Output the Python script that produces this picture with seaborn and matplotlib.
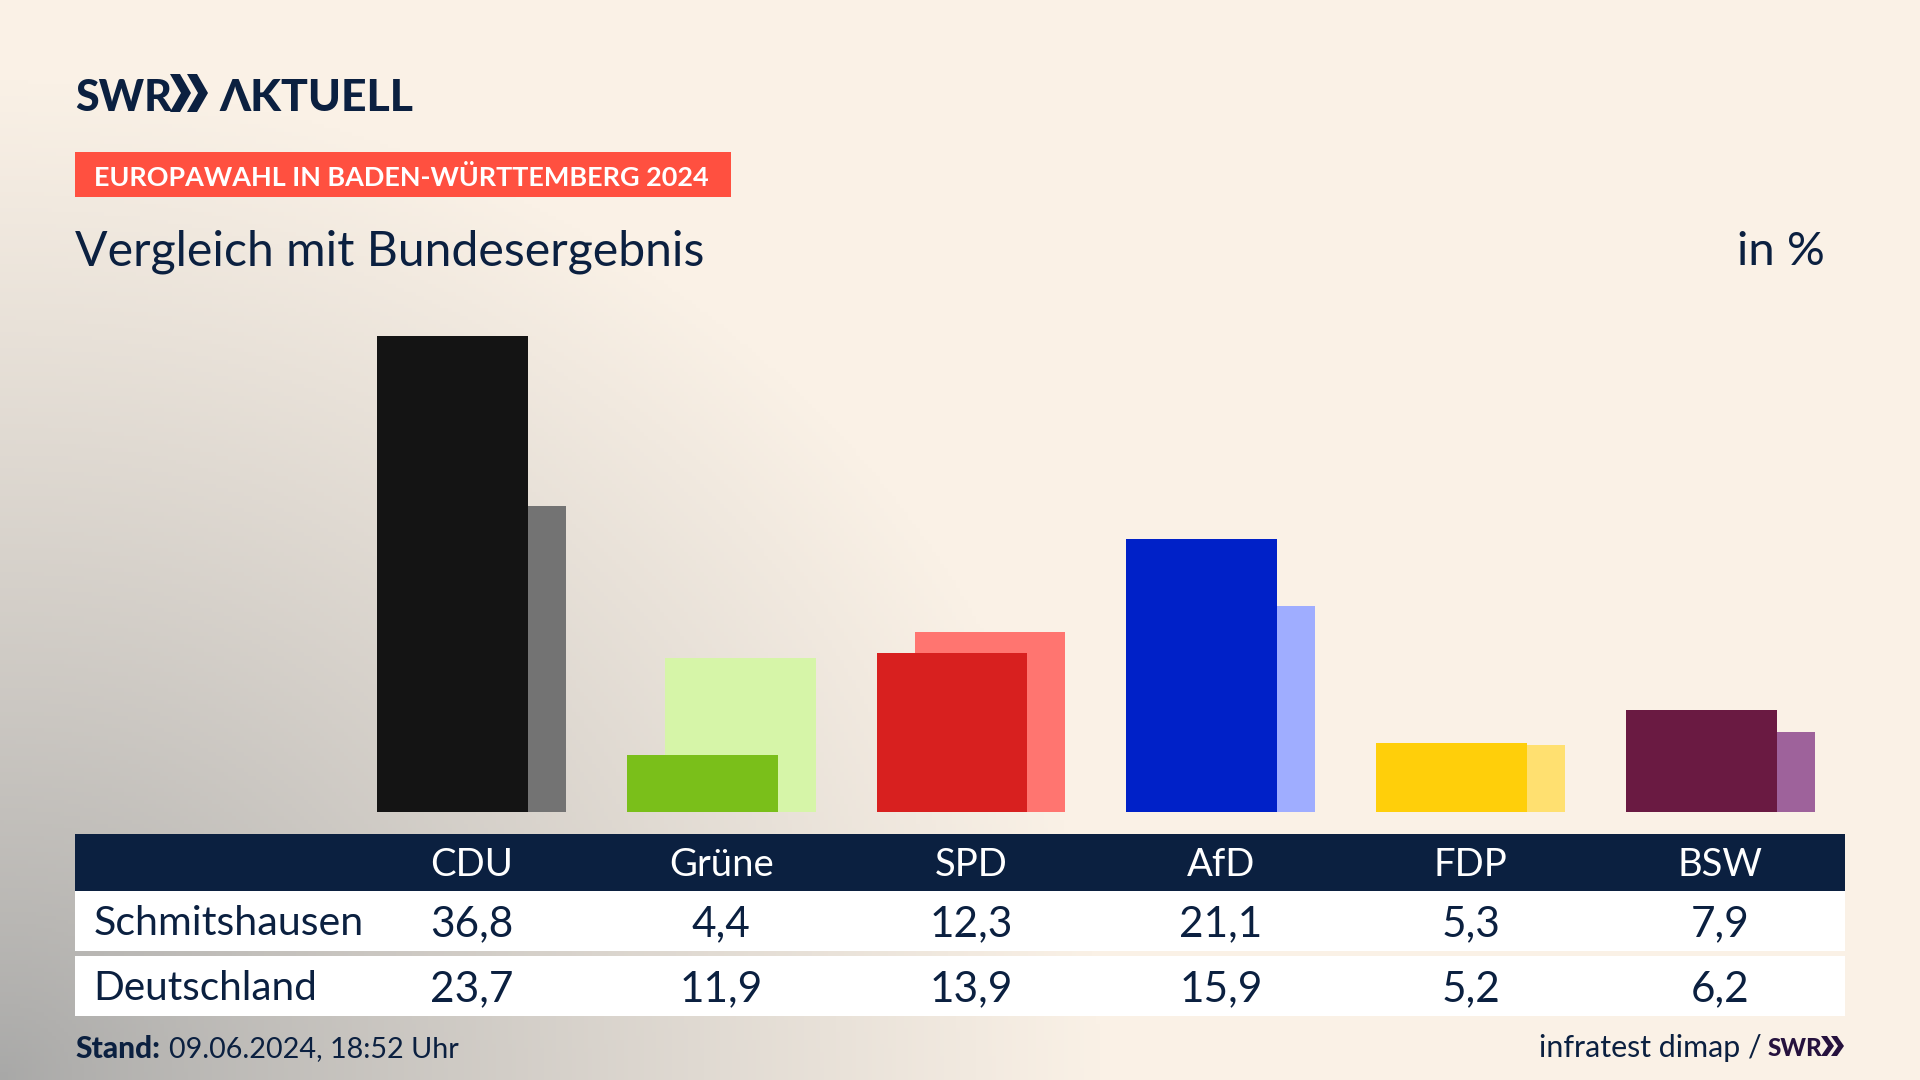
"""
Europawahl Schmitshausen vs. Bundesergebnis, SWR Aktuell Grafik
"""
import numpy as np
import pandas as pd
import matplotlib.pyplot as plt
import matplotlib.transforms as mtransforms
from matplotlib.patches import Polygon, Rectangle
import seaborn as sns

sns.set_style("white")
plt.rcParams['font.family'] = ['Lato', 'Noto Sans', 'DejaVu Sans']

NAVY = '#0b2040'

# Data
df = pd.DataFrame({
    'Partei': ['CDU', 'Grüne', 'SPD', 'AfD', 'FDP', 'BSW'],
    'Schmitshausen': [36.8, 4.4, 12.3, 21.1, 5.3, 7.9],
    'Deutschland': [23.7, 11.9, 13.9, 15.9, 5.2, 6.2],
})
df['pos'] = np.arange(len(df))
df['x_lokal'] = df['pos'] - 0.076
df['x_bund'] = df['pos'] + 0.076

farben_lokal = ['#141414', '#7abf1a', '#d8201f', '#0021c8', '#ffcf0a', '#6a1a42']
farben_bund = ['#737373', '#d6f5a8', '#ff7570', '#9fadff', '#ffe070', '#9e629b']

fig = plt.figure(figsize=(19.2, 10.8), dpi=100)

# Hintergrund + Layout in Pixelkoordinaten
bg = fig.add_axes([0, 0, 1, 1])
bg.set_xlim(0, 1920)
bg.set_ylim(1080, 0)
bg.set_axis_off()

xx, yy = np.meshgrid(np.linspace(0, 1920, 480), np.linspace(0, 1080, 270))
d = np.sqrt((xx / 1100) ** 2 + ((1080 - yy) / 1000) ** 2)
t = np.clip(d, 0, 1) ** 0.85
grau = np.array([0xa8, 0xa8, 0xa7]) / 255
creme = np.array([0xfa, 0xf1, 0xe6]) / 255
bild = grau[None, None, :] + (creme - grau)[None, None, :] * t[:, :, None]
bg.imshow(bild, extent=(0, 1920, 1080, 0), aspect='auto', zorder=0)

# Balken
ax = fig.add_axes([75 / 1920, (1080 - 812) / 1080, 1770 / 1920, 512 / 1080])
ax.patch.set_alpha(0)
sns.barplot(data=df, x='x_bund', y='Deutschland', hue='Partei', palette=farben_bund,
            width=0.604, native_scale=True, dodge=False, saturation=1, legend=False,
            linewidth=0, edgecolor='none', ax=ax)
sns.barplot(data=df, x='x_lokal', y='Schmitshausen', hue='Partei', palette=farben_lokal,
            width=0.604, native_scale=True, dodge=False, saturation=1, legend=False,
            linewidth=0, edgecolor='none', ax=ax)
ax.set_xlim(-1.587, 5.499)
ax.set_ylim(0, 512 / 12.93)
ax.set_axis_off()


def chevrons(x, y0, y1, w, t, step, color):
    ym = (y0 + y1) / 2
    for k in range(2):
        x0 = x + k * step
        bg.add_patch(Polygon([(x0, y0), (x0 + t, y0), (x0 + w, ym), (x0 + t, y1),
                              (x0, y1), (x0 + w - t, ym)], closed=True,
                             facecolor=color, edgecolor='none', zorder=3))


# Kopf
bg.text(75, 111, 'SWR', fontsize=31, fontweight='black', color=NAVY, va='baseline', ha='left')
chevrons(170, 74, 112, 21, 10, 17, NAVY)
bg.text(219, 111, 'ΛKTUELL', fontsize=32, fontweight='black', color=NAVY, va='baseline', ha='left')

bg.add_patch(Rectangle((75, 152), 656, 45, facecolor='#ff5040', edgecolor='none', zorder=2))
bg.text(94, 175, 'EUROPAWAHL IN BADEN-WÜRTTEMBERG 2024', fontsize=19.45, fontweight='bold',
        color='white', va='center_baseline', ha='left', zorder=3)

bg.text(75, 248, 'Vergleich mit Bundesergebnis', fontsize=34.7, color=NAVY,
        va='center_baseline', ha='left')
bg.text(1825, 248, 'in %', fontsize=34, color=NAVY, va='center_baseline', ha='right')

# Tabelle
bg.add_patch(Rectangle((75, 834), 1770, 57, facecolor=NAVY, edgecolor='none', zorder=2))
bg.add_patch(Rectangle((75, 891), 1770, 60, facecolor='white', edgecolor='none', zorder=2))
bg.add_patch(Rectangle((75, 956), 1770, 60, facecolor='white', edgecolor='none', zorder=2))

spalten = mtransforms.blended_transform_factory(ax.transData, bg.transData)
for _, row in df.iterrows():
    bg.text(row['pos'], 862, row['Partei'], transform=spalten, fontsize=27.5, color='white',
            ha='center', va='center_baseline', zorder=3)
    bg.text(row['pos'], 921, f"{row['Schmitshausen']:.1f}".replace('.', ','), transform=spalten,
            fontsize=30.5, color=NAVY, ha='center', va='center_baseline', zorder=3)
    bg.text(row['pos'], 986, f"{row['Deutschland']:.1f}".replace('.', ','), transform=spalten,
            fontsize=30.5, color=NAVY, ha='center', va='center_baseline', zorder=3)

bg.text(94, 920, 'Schmitshausen', fontsize=29.6, color=NAVY, ha='left', va='center_baseline', zorder=3)
bg.text(93, 985, 'Deutschland', fontsize=29.2, color=NAVY, ha='left', va='center_baseline', zorder=3)

# Fuss
bg.text(75, 1047, 'Stand:', fontsize=21.5, fontweight='black', color=NAVY, ha='left', va='center_baseline')
bg.text(169, 1047, '09.06.2024, 18:52 Uhr', fontsize=20.7, color=NAVY, ha='left', va='center_baseline')
bg.text(1539, 1046, 'infratest dimap /', fontsize=21.9, color=NAVY, ha='left', va='center_baseline')
bg.text(1768, 1056, 'SWR', fontsize=17.5, fontweight='black', color='#26123e', ha='left', va='baseline')
chevrons(1821, 1036, 1056, 13, 6, 10, '#26123e')

plt.savefig('out.png', dpi=100)
plt.close()
